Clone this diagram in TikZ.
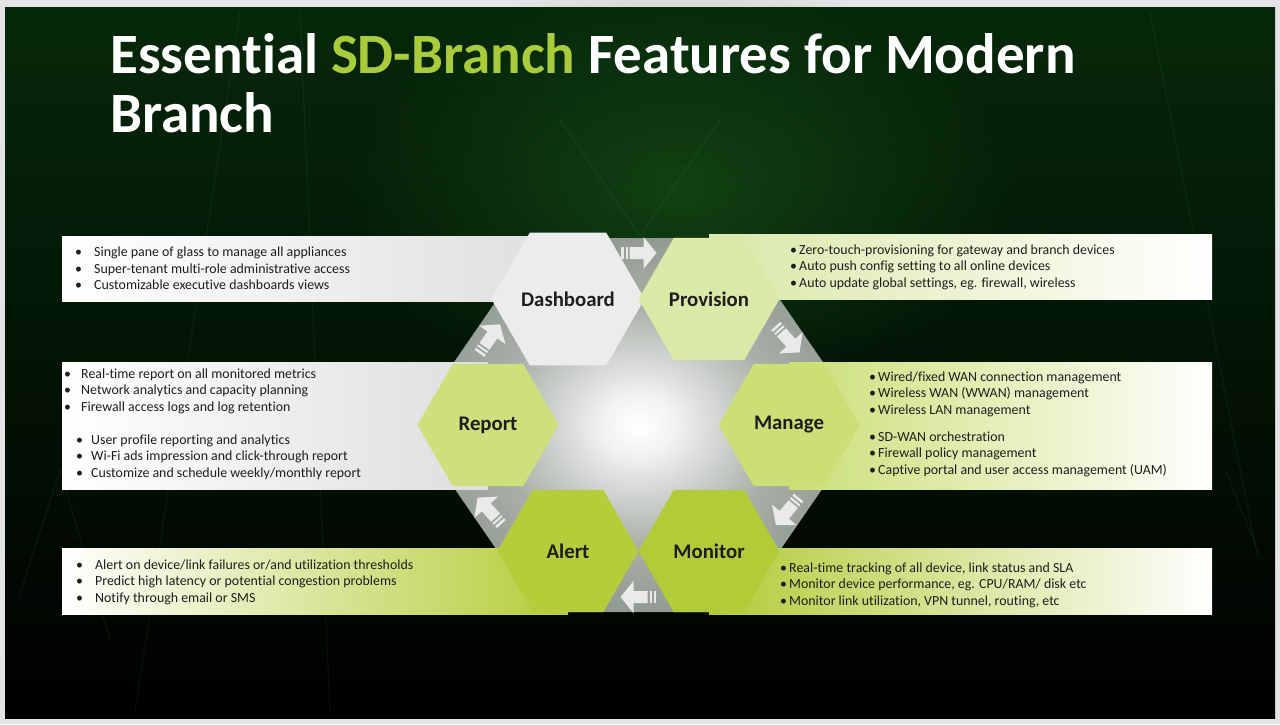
\documentclass[tikz,border=0pt]{standalone}
\usepackage{fontspec}
\setmainfont{Carlito}[Ligatures=NoCommon]
\usepackage{xcolor}
\usetikzlibrary{shapes.geometric,calc,fadings}

\definecolor{pageedge}{RGB}{228,228,228}
\definecolor{bgtop}{RGB}{6,40,10}
\definecolor{bgmid}{RGB}{4,30,8}
\definecolor{bgglow}{RGB}{30,95,30}
\definecolor{titlegreen}{RGB}{170,203,60}
\definecolor{hubmid}{RGB}{168,175,168}
\definecolor{hubouter}{RGB}{108,122,108}
\definecolor{hubedge}{RGB}{84,102,84}
\definecolor{dashfill}{RGB}{236,236,236}
\definecolor{provfill}{RGB}{218,232,168}
\definecolor{repfill}{RGB}{206,224,124}
\definecolor{manfill}{RGB}{203,223,118}
\definecolor{alertfill}{RGB}{181,205,58}
\definecolor{monfill}{RGB}{178,203,56}
\definecolor{bandgray}{RGB}{222,222,222}
\definecolor{arrowfill}{RGB}{234,234,234}
\definecolor{txtcol}{RGB}{30,30,30}

\pgfdeclareradialshading{hubglow}{\pgfpoint{0bp}{0bp}}{color(0bp)=(white); color(4bp)=(white!90!gray); color(16bp)=(hubmid); color(40bp)=(hubouter); color(50bp)=(hubedge)}
\tikzfading[name=glowfade, inner color=transparent!0, outer color=transparent!100]

\newcommand{\lbul}{\llap{\makebox[19pt][l]{•}}}
\newcommand{\rbul}{\llap{\makebox[9pt][l]{•}}}

\begin{document}
\begin{tikzpicture}[x=1pt, y=-1pt]
\tikzset{hexa/.style={regular polygon, regular polygon sides=6, minimum size=141pt, inner sep=0pt, font=\fontsize{20.8}{24}\selectfont\bfseries, text=txtcol}}
\tikzset{item/.style={anchor=base west, inner sep=0pt, font=\fontsize{13.9}{16}\selectfont, text=txtcol}}
\tikzset{flowarrow/.pic={
  \fill[arrowfill] (-9,-6) -- (5,-6) -- (5,-16) -- (18,0) -- (5,16) -- (5,6) -- (-9,6) -- cycle;
  \fill[arrowfill] (-13,-6) rectangle (-11,6);
  \fill[arrowfill] (-17.5,-6) rectangle (-15,6);
}}
\useasboundingbox (0,0) rectangle (1280,724);
% page and slide background
\fill[pageedge] (0,0) rectangle (1280,724);
\shade[top color=bgtop, middle color=bgmid, bottom color=black] (5,7) rectangle (1275,718);
\fill[bgglow, opacity=0.55, path fading=glowfade] (680,190) ellipse (340 and 210);
\begin{scope}[white!60!green, opacity=0.06, line width=1.2pt]
\draw (240,12) -- (135,712);
\draw (300,12) -- (330,712);
\draw (1150,12) -- (1258,560);
\draw (18,600) -- (60,470) -- (110,640);
\draw (560,120) -- (640,236) -- (720,120);
\draw (1225,470) -- (1262,560);
\end{scope}
% title
\node[anchor=base west, inner sep=0pt, align=left, text=white, font=\fontsize{57}{59}\selectfont\bfseries] (title) at (110,132) {Essential \textcolor{titlegreen}{SD-Branch} Features for Modern\\Branch};
% grey hub behind the hexagons
\coordinate (hub) at (638.5,425);
\shade[shading=hubglow] (532.75,238) -- (744.25,238) -- (779.5,299) -- (824.25,364) -- (859.5,425) -- (824.25,486) -- (779.5,551) -- (744.25,612) -- (532.75,612) -- (497.5,551) -- (452.75,486) -- (417.5,425) -- (452.75,364) -- (497.5,299) -- cycle;
% text bands
\shade[left color=white, right color=bandgray] (62,236) rectangle (568,301);
\shade[left color=provfill, right color=white] (709,234) rectangle (1212,299);
\shade[left color=white, right color=bandgray] (62,362) rectangle (488,489);
\shade[left color=manfill, right color=white] (789,362) rectangle (1212,489);
\shade[left color=white, right color=alertfill] (62,548) rectangle (568,614);
\shade[left color=monfill, right color=white] (709,548) rectangle (1212,614);
% hexagons
\node[hexa, fill=dashfill] (dash) at (568,299) {Dashboard};
\node[hexa, fill=provfill] (prov) at (709,299) {Provision};
\node[hexa, fill=repfill] (rep) at (488,425) {Report};
\node[hexa, fill=manfill] (man) at (789,425) {Manage};
\node[hexa, fill=alertfill] (alert) at (568,551) {Alert};
\node[hexa, fill=monfill] (mon) at (709,551) {Monitor};
% cycle arrows
\foreach \p/\r in {-90/0, -30/-48, 30/-130, 90/180, 150/132, -150/55}
  \pic[rotate=\r] at ($(hub)+(\p:172)$) {flowarrow};
% band texts
\foreach \t [count=\i] in {Single pane of glass to manage all appliances, Super-tenant multi-role administrative access, Customizable executive dashboards views}
  \node[item] (dashtxt\i) at (94,240+16.5*\i) {\lbul\t};
\foreach \t [count=\i] in {Zero-touch-provisioning for gateway and branch devices, Auto push config setting to all online devices, {Auto update global settings, eg. firewall, wireless}}
  \node[item] (provtxt\i) at (799,237.5+16.5*\i) {\rbul\t};
\foreach \t [count=\i] in {Real-time report on all monitored metrics, Network analytics and capacity planning, Firewall access logs and log retention}
  \node[item] (reptxt\i) at (81,361.5+16.5*\i) {\llap{\makebox[17pt][l]{•}}\t};
\foreach \t [count=\i] in {User profile reporting and analytics, Wi-Fi ads impression and click-through report, Customize and schedule weekly/monthly report}
  \node[item] (reptxtb\i) at (91,427.5+16.5*\i) {\llap{\makebox[15pt][l]{•}}\t};
\foreach \t [count=\i] in {Wired/fixed WAN connection management, Wireless WAN (WWAN) management, Wireless LAN management}
  \node[item] (mantxt\i) at (878,364.5+16.5*\i) {\rbul\t};
\foreach \t [count=\i] in {SD-WAN orchestration, Firewall policy management, Captive portal and user access management (UAM)}
  \node[item] (mantxtb\i) at (878,424.5+16.5*\i) {\rbul\t};
\foreach \t [count=\i] in {Alert on device/link failures or/and utilization thresholds, Predict high latency or potential congestion problems, Notify through email or SMS}
  \node[item] (alerttxt\i) at (95,552.5+16.5*\i) {\lbul\t};
\foreach \t [count=\i] in {{Real-time tracking of all device, link status and SLA}, {Monitor device performance, eg. CPU/RAM/ disk etc}, {Monitor link utilization, VPN tunnel, routing, etc}}
  \node[item] (montxt\i) at (789,555.5+16.5*\i) {\rbul\t};
\end{tikzpicture}
\end{document}
